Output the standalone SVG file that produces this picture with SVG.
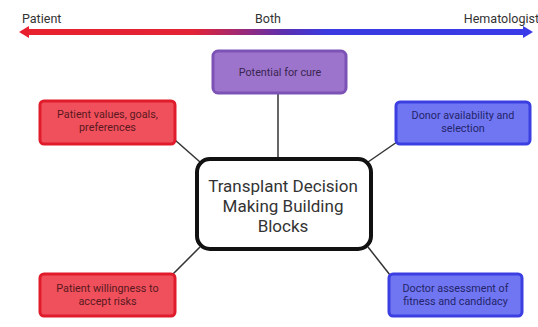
<svg xmlns="http://www.w3.org/2000/svg" width="538" height="327" viewBox="0 0 538 327">
<defs>
<linearGradient id="g" x1="20" y1="0" x2="530" y2="0" gradientUnits="userSpaceOnUse">
<stop offset="0" stop-color="#e8202e"/>
<stop offset="0.34" stop-color="#e32336"/>
<stop offset="0.52" stop-color="#5a2fb0"/>
<stop offset="0.6" stop-color="#3a3ae0"/>
<stop offset="1" stop-color="#3a3ae8"/>
</linearGradient>
<style>
.lbl{font-family:Roboto,"Liberation Sans",sans-serif;font-size:12.5px;fill:#333}
.t{font-family:Roboto,"Liberation Sans",sans-serif;font-size:10.8px;text-anchor:middle}
.red rect{fill:#f0505c;stroke:#e01c2c;stroke-width:3}
.red text{fill:#5a1820}
.blue rect{fill:#7076f2;stroke:#3b3fe2;stroke-width:3}
.blue text{fill:#24246a}
.pur rect{fill:#9c74cc;stroke:#7c52b6;stroke-width:3}
.pur text{fill:#3a2450}
.conn line{stroke:#333;stroke-width:1.5}
.big{font-family:Roboto,"Liberation Sans",sans-serif;font-size:17px;fill:#333;text-anchor:middle}
</style>
</defs>
<g id="scale">
<line x1="26" y1="32" x2="526" y2="32" stroke="url(#g)" stroke-width="6"/>
<polygon points="19,32 29,26 29,38" fill="#e8202e"/>
<polygon points="533,32 523,26 523,38" fill="#3a3ae8"/>
<text class="lbl" x="22" y="23">Patient</text>
<text class="lbl" x="268" y="23" text-anchor="middle">Both</text>
<text class="lbl" x="539" y="23" text-anchor="end">Hematologist</text>
</g>
<g id="connectors" class="conn">
<line x1="278" y1="93" x2="278" y2="158"/>
<line x1="175" y1="140" x2="200" y2="162"/>
<line x1="397" y1="142" x2="368" y2="162"/>
<line x1="173" y1="274" x2="200" y2="247"/>
<line x1="390" y1="275" x2="368" y2="247"/>
</g>
<g id="cure" class="pur">
<rect x="213" y="51" width="133" height="42" rx="5"/>
<text class="t" x="280" y="76">Potential for cure</text>
</g>
<g id="values" class="red">
<rect x="40" y="101" width="135" height="43" rx="4"/>
<text class="t" x="107.5" y="118">Patient values, goals,</text>
<text class="t" x="107.5" y="131">preferences</text>
</g>
<g id="donor" class="blue">
<rect x="396" y="102" width="134" height="42" rx="4"/>
<text class="t" x="463" y="119">Donor availability and</text>
<text class="t" x="463" y="132">selection</text>
</g>
<g id="center">
<rect x="197" y="159" width="174" height="90" rx="13" fill="#fff" stroke="#111" stroke-width="4"/>
<text class="big" x="283" y="192">Transplant Decision</text>
<text class="big" x="283" y="212">Making Building</text>
<text class="big" x="283" y="232">Blocks</text>
</g>
<g id="risks" class="red">
<rect x="40" y="274" width="135" height="42" rx="4"/>
<text class="t" x="107.5" y="292">Patient willingness to</text>
<text class="t" x="107.5" y="305">accept risks</text>
</g>
<g id="fitness" class="blue">
<rect x="389" y="274" width="133" height="42" rx="4"/>
<text class="t" x="455.5" y="292">Doctor assessment of</text>
<text class="t" x="455.5" y="305">fitness and candidacy</text>
</g>
</svg>
